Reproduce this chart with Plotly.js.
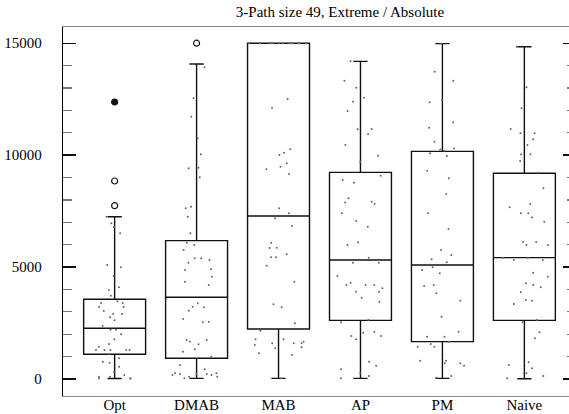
<!DOCTYPE html>
<html>
<head>
<meta charset="utf-8">
<script src="https://cdn.plot.ly/plotly-3.0.1.min.js"></script>
<style>
html, body { margin: 0; padding: 0; overflow: hidden; background: #fff; width: 569px; height: 414px; }
#chart { width: 580px; height: 414px; }
</style>
</head>
<body>
<div id="chart"></div>
<script>
const categories = ['Opt', 'DMAB', 'MAB', 'AP', 'PM', 'Naive'];
const q1 = [1103, 925, 2233, 2620, 1670, 2620];
const median = [2265, 3650, 7280, 5315, 5090, 5420];
const q3 = [3560, 6180, 15000, 9230, 10170, 9190];
const lowerWhisker = [20, 30, 30, 30, 30, 10];
const upperWhisker = [7250, 14070, 15000, 14190, 14980, 14840];
const yTickValues = [0, 5000, 10000, 15000];
const yTickLabels = ['0', '5000', '10000', '15000'];

const outlierCats = ['Opt', 'Opt', 'Opt', 'DMAB'];
const outlierValues = [12373, 8845, 7743, 15000];
const outlierSymbols = ['circle', 'circle-open', 'circle-open', 'circle-open'];

const optRuns = [7250, 6955, 6775, 6510, 5090, 4990, 4600, 4100, 3975, 3720, 3470, 3395, 3395,
  3216, 3216, 3037, 2903, 2903, 2755, 2620, 2367, 2202, 2202, 1995, 1773, 1563, 1444,
  1295, 1295, 1295, 1295, 1295, 1117, 925, 773, 728, 549, 326, 179, 103, 103, 20, 20, 20];
const dmabRuns = [14070, 13925, 12540, 11720, 10750, 10040, 9440, 9410, 9010, 7700, 7625, 7250,
  6510, 6090, 5985, 5760, 5390, 5390, 5315, 5195, 4900, 4870, 4570, 4350, 4200, 3380, 3230,
  3200, 3050, 2680, 2560, 2530, 1742, 1740, 1666, 1550, 1325, 1220, 996, 625, 433, 255, 255,
  223, 223, 223, 179, 179, 103, 103, 30];
const mabRuns = [15000, 15000, 15000, 15000, 15000, 15000, 15000, 15000, 15000, 15000, 15000,
  15000, 15000, 12510, 12120, 10260, 10110, 10005, 9635, 9485, 9365, 9160, 7625, 7400, 7180,
  6835, 6090, 5865, 5850, 5570, 5435, 5435, 5060, 4350, 3335, 3200, 2490, 2160, 1773, 1773,
  1666, 1595, 1595, 1595, 1520, 1416, 1370, 1148, 1072, 30];
const apRuns = [14190, 13325, 13010, 12565, 12390, 11970, 11170, 11155, 10945, 10455, 9975, 9710,
  9080, 8890, 8770, 8070, 7920, 7890, 7830, 7400, 7060, 6805, 6105, 5985, 5420, 5195, 5195,
  4600, 4300, 4200, 4200, 4200, 4050, 3900, 3900, 3630, 3455, 2635, 2530, 2115, 2070, 1920,
  1920, 1773, 773, 596, 433, 255, 134, 30];
const pmRuns = [14980, 13730, 13325, 12465, 12360, 11470, 11225, 10600, 10300, 10250, 10200,
  10080, 9960, 9305, 8965, 8265, 7400, 6700, 5760, 5540, 5345, 5210, 4990, 4870, 4720, 4200,
  4155, 3830, 3500, 2785, 2115, 1890, 1890, 1666, 1565, 1444, 1444, 818, 818, 700, 700, 596,
  134, 58];
const naiveRuns = [14840, 13030, 12090, 11170, 10975, 10975, 10710, 10455, 10040, 10040, 9740,
  9215, 8520, 7820, 7670, 7400, 7400, 7220, 7025, 6120, 6120, 5985, 5985, 5420, 5420, 5315,
  5315, 4750, 4570, 4275, 4200, 4095, 3870, 3530, 3500, 3350, 2635, 2530, 2085, 1818, 745,
  625, 478, 255, 134, 30];

const runsByCat = [optRuns, dmabRuns, mabRuns, apRuns, pmRuns, naiveRuns];
const jx = [], jy = [];
runsByCat.forEach((arr, i) => arr.forEach(v => { jx.push(categories[i]); jy.push(v); }));

const serif = 'Liberation Serif';

const boxTrace = {
  type: 'box', x: categories, q1: q1, median: median, q3: q3,
  lowerfence: lowerWhisker, upperfence: upperWhisker,
  boxpoints: false, width: 0.756, whiskerwidth: 0.23,
  line: { color: '#111', width: 1.4 }, fillcolor: 'rgba(0,0,0,0)',
  hoverinfo: 'skip', showlegend: false
};
const jitterTrace = {
  type: 'box', x: jx, y: jy, boxpoints: 'all', jitter: 1, pointpos: 0,
  width: 0.756, line: { color: 'rgba(0,0,0,0)', width: 0 }, fillcolor: 'rgba(0,0,0,0)',
  marker: { size: 2, color: '#666', line: { width: 0 } },
  hoverinfo: 'skip', showlegend: false
};
const outlierTrace = {
  type: 'scatter', mode: 'markers', x: outlierCats, y: outlierValues,
  marker: { symbol: outlierSymbols, size: 6, color: '#111', line: { color: '#111', width: 1.2 } },
  hoverinfo: 'skip', showlegend: false
};

const layout = {
  width: 580, height: 414,
  margin: { l: 63, r: 4, t: 27, b: 18 },
  paper_bgcolor: '#fff', plot_bgcolor: '#fff',
  font: { family: serif, size: 15, color: '#000' },
  title: { text: '3-Path size 49, Extreme / Absolute', font: { family: serif, size: 15, color: '#000' },
    x: 0.54, xref: 'paper', xanchor: 'center', y: 0.972, yref: 'container', yanchor: 'middle' },
  boxmode: 'overlay',
  xaxis: {
    type: 'category', categoryorder: 'array', categoryarray: categories,
    range: [-0.63, 5.63], showgrid: false, zeroline: false,
    showline: true, linecolor: '#888', linewidth: 1.2, mirror: true,
    ticks: '', ticklabelstandoff: -5,
    tickfont: { family: serif, size: 15, color: '#000' }
  },
  yaxis: {
    range: [-759, 15724], showgrid: false, zeroline: false,
    showline: true, linecolor: '#000', linewidth: 1.2, mirror: 'ticks',
    tickvals: yTickValues, ticktext: yTickLabels,
    ticks: 'inside', ticklen: 13, tickwidth: 1.3, tickcolor: '#111',
    ticklabelstandoff: 17,
    minor: { dtick: 1000, tick0: 0, ticks: 'inside', ticklen: 9, tickwidth: 1.2, tickcolor: '#777' },
    tickfont: { family: serif, size: 15, color: '#000' }
  }
};

Plotly.newPlot('chart', [boxTrace, jitterTrace, outlierTrace], layout, { displayModeBar: false, staticPlot: true });
</script>
</body>
</html>
